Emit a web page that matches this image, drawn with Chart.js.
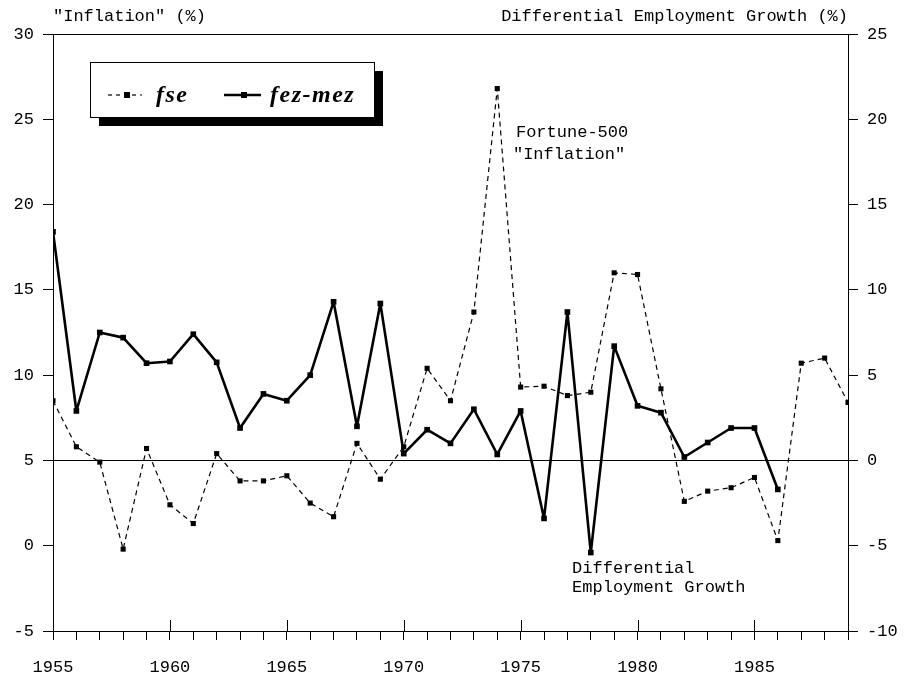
<!DOCTYPE html>
<html>
<head>
<meta charset="utf-8">
<title>Fortune-500 inflation and differential employment growth</title>
<script src="https://cdn.jsdelivr.net/npm/chart.js@4.4.1/dist/chart.umd.min.js"></script>
<style>
  html, body { margin: 0; padding: 0; background: #fff; }
  canvas { display: block; }
</style>
</head>
<body>
<canvas id="chart" width="904" height="679"></canvas>
<script>
// yearly series, 1955-1989
const years = [1955, 1956, 1957, 1958, 1959, 1960, 1961, 1962, 1963, 1964,
               1965, 1966, 1967, 1968, 1969, 1970, 1971, 1972, 1973, 1974,
               1975, 1976, 1977, 1978, 1979, 1980, 1981, 1982, 1983, 1984,
               1985, 1986, 1987, 1988, 1989];

// fse: Fortune-500 "inflation" (left axis, %)
const fse = [8.5, 5.8, 4.9, -0.2, 5.7, 2.4, 1.3, 5.4, 3.8, 3.8,
             4.1, 2.5, 1.7, 6.0, 3.9, 5.8, 10.4, 8.5, 13.7, 26.8,
             9.3, 9.35, 8.8, 9.0, 16.0, 15.9, 9.2, 2.6, 3.2, 3.4,
             4.0, 0.3, 10.7, 11.0, 8.4];

// fez-mez: differential employment growth (right axis, %)
const fezMez = [13.4, 2.9, 7.5, 7.2, 5.7, 5.8, 7.4, 5.75, 1.9, 3.9,
                3.5, 5.0, 9.3, 2.0, 9.2, 0.4, 1.8, 1.0, 3.0, 0.35,
                2.9, -3.4, 8.7, -5.4, 6.7, 3.2, 2.8, 0.2, 1.05, 1.9,
                1.9, -1.7, null, null, null];

const leftTicks = [-5, 0, 5, 10, 15, 20, 25, 30];
const rightTicks = [-10, -5, 0, 5, 10, 15, 20, 25];
const majorYears = [1955, 1960, 1965, 1970, 1975, 1980, 1985];

const leftTitle = '"Inflation" (%)';
const rightTitle = 'Differential Employment Growth (%)';
const fseNote = ['Fortune-500', '"Inflation"'];
const fezNote = ['Differential', 'Employment Growth'];

const FONT = '"Liberation Mono", monospace';

function pairs(ys){
  return years.map((yr, i) => ({x: yr, y: ys[i]}));
}

// extra drawing: inward major ticks, titles, notes and the boxed legend
const decorations = {
  id: 'decorations',
  afterDraw(chart){
    const {ctx, chartArea, scales} = chart;
    const x = scales.x, yL = scales.y, yR = scales.y1;
    ctx.save();
    ctx.strokeStyle = '#000';
    ctx.fillStyle = '#000';
    ctx.lineWidth = 1;

    majorYears.forEach(yr => {
      const px = Math.round(x.getPixelForValue(yr)) + 0.5;
      ctx.beginPath();
      ctx.moveTo(px, chartArea.bottom);
      ctx.lineTo(px, chartArea.bottom - 11);
      ctx.stroke();
    });

    ctx.font = '17px ' + FONT;
    ctx.textBaseline = 'middle';
    ctx.textAlign = 'left';
    ctx.fillText(leftTitle, chartArea.left, 16);
    ctx.textAlign = 'right';
    ctx.fillText(rightTitle, chartArea.right, 16);

    ctx.textAlign = 'left';
    const nx = x.getPixelForValue(1974.8), ny = yL.getPixelForValue(24.2);
    ctx.fillText(fseNote[0], nx, ny);
    ctx.fillText(fseNote[1], nx - 3, ny + 22);
    const dx = x.getPixelForValue(1977.2), dy = yR.getPixelForValue(-6.35);
    ctx.fillText(fezNote[0], dx, dy);
    ctx.fillText(fezNote[1], dx, dy + 19);

    // legend box with drop shadow
    const bx = 90, by = 62, bw = 284, bh = 55;
    ctx.fillRect(bx + 9, by + 9, bw, bh);
    ctx.fillStyle = '#fff';
    ctx.fillRect(bx, by, bw, bh);
    ctx.strokeRect(bx + 0.5, by + 0.5, bw, bh);

    const ds = chart.data.datasets;
    const ly = by + 33;
    // fse sample
    ctx.lineWidth = 1.2;
    ctx.setLineDash([4, 4]);
    ctx.beginPath();
    ctx.moveTo(108, ly); ctx.lineTo(142, ly);
    ctx.stroke();
    ctx.setLineDash([]);
    ctx.fillStyle = '#000';
    ctx.fillRect(124, ly - 3, 6, 6);
    // fez-mez sample
    ctx.lineWidth = 2.5;
    ctx.beginPath();
    ctx.moveTo(224, ly); ctx.lineTo(261, ly);
    ctx.stroke();
    ctx.fillRect(241, ly - 3, 6, 6);

    ctx.font = 'italic bold 24px "Liberation Serif", serif';
    ctx.letterSpacing = '1.5px';
    ctx.textAlign = 'left';
    ctx.fillText(ds[0].label, 156, ly + 1);
    ctx.fillText(ds[1].label, 270, ly + 1);
    ctx.letterSpacing = '0px';
    ctx.restore();
  }
};

Chart.defaults.font.family = FONT;
Chart.defaults.font.size = 17;
Chart.defaults.color = '#000';

new Chart(document.getElementById('chart'), {
  type: 'line',
  data: {
    datasets: [{
      label: 'fse',
      data: pairs(fse),
      yAxisID: 'y',
      borderColor: '#000',
      borderWidth: 1.2,
      borderDash: [5, 4],
      pointStyle: 'rect',
      pointRadius: 3.6,
      pointBackgroundColor: '#000',
      pointBorderWidth: 0,
      tension: 0
    }, {
      label: 'fez-mez',
      data: pairs(fezMez),
      yAxisID: 'y1',
      borderColor: '#000',
      borderWidth: 2.6,
      borderJoinStyle: 'round',
      pointStyle: 'rect',
      pointRadius: 4,
      pointBackgroundColor: '#000',
      pointBorderWidth: 0,
      spanGaps: false,
      tension: 0
    }]
  },
  options: {
    responsive: false,
    devicePixelRatio: 1,
    animation: false,
    layout: {padding: {top: 34, left: 0, right: 0, bottom: 0}},
    plugins: {legend: {display: false}, tooltip: {enabled: false}},
    scales: {
      x: {
        type: 'linear',
        min: years[0],
        max: years[years.length - 1],
        afterFit: s => { s.height = 48; },
        border: {display: true, color: '#000', width: 1},
        grid: {drawOnChartArea: false, tickLength: 9, tickColor: '#000', color: '#000'},
        ticks: {
          stepSize: 1,
          autoSkip: false,
          maxRotation: 0,
          padding: 17,
          callback: v => majorYears.includes(v) ? String(v) : ''
        }
      },
      y: {
        position: 'left',
        min: leftTicks[0],
        max: leftTicks[leftTicks.length - 1],
        afterFit: s => { s.width = 53; },
        afterBuildTicks: s => { s.ticks = leftTicks.map(v => ({value: v})); },
        border: {display: true, color: '#000', width: 1},
        grid: {
          tickLength: 10,
          tickColor: '#000',
          color: c => (c.tick && (c.tick.value === 5 || c.tick.value === 30)) ? '#000' : 'rgba(0,0,0,0)'
        },
        ticks: {padding: 9}
      },
      y1: {
        position: 'right',
        min: rightTicks[0],
        max: rightTicks[rightTicks.length - 1],
        afterFit: s => { s.width = 56; },
        afterBuildTicks: s => { s.ticks = rightTicks.map(v => ({value: v})); },
        border: {display: true, color: '#000', width: 1},
        grid: {drawOnChartArea: false, tickLength: 10, tickColor: '#000', color: '#000'},
        ticks: {padding: 9}
      }
    }
  },
  plugins: [decorations]
});
</script>
</body>
</html>
